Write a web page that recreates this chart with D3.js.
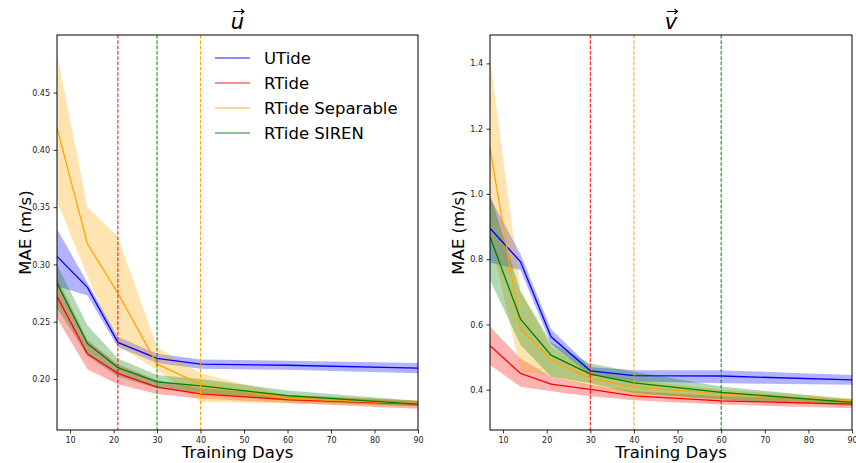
<!DOCTYPE html>
<html>
<head>
<meta charset="utf-8">
<script src="https://cdn.jsdelivr.net/npm/d3@7"></script>
<style>
  body { margin: 0; background: #fff; }
  text { font-family: "DejaVu Sans", sans-serif; }
</style>
</head>
<body>
<script>
// training days on the x axis
var days = [7, 14, 21, 30, 40, 60, 90];
var seriesNames = ['UTide', 'RTide', 'RTide Separable', 'RTide SIREN'];
var seriesColors = ['#0000ff', '#ff0000', '#ffa500', '#008000'];

// u component: mean, lower, upper
var uMean = [
  [0.307, 0.280, 0.232, 0.218, 0.213, 0.212, 0.2095],
  [0.272, 0.222, 0.205, 0.193, 0.187, 0.182, 0.178],
  [0.4195, 0.318, 0.275, 0.213, 0.1955, 0.183, 0.1785],
  [0.2835, 0.231, 0.210, 0.1975, 0.194, 0.1855, 0.178]
];
var uLow = [
  [0.281, 0.273, 0.228, 0.214, 0.209, 0.208, 0.205],
  [0.253, 0.2085, 0.1955, 0.187, 0.183, 0.179, 0.174],
  [0.355, 0.290, 0.229, 0.208, 0.180, 0.179, 0.176],
  [0.262, 0.220, 0.202, 0.192, 0.188, 0.181, 0.176]
];
var uHigh = [
  [0.331, 0.284, 0.237, 0.222, 0.217, 0.216, 0.214],
  [0.288, 0.234, 0.213, 0.199, 0.192, 0.186, 0.181],
  [0.484, 0.350, 0.324, 0.228, 0.205, 0.186, 0.181],
  [0.300, 0.247, 0.218, 0.2035, 0.200, 0.190, 0.181]
];

// v component: mean, lower, upper
var vMean = [
  [0.895, 0.792, 0.562, 0.458, 0.443, 0.442, 0.430],
  [0.535, 0.450, 0.417, 0.401, 0.381, 0.366, 0.356],
  [1.14, 0.588, 0.491, 0.435, 0.409, 0.387, 0.365],
  [0.869, 0.616, 0.506, 0.448, 0.421, 0.392, 0.361]
];
var vLow = [
  [0.790, 0.767, 0.540, 0.445, 0.425, 0.420, 0.415],
  [0.476, 0.409, 0.395, 0.380, 0.368, 0.355, 0.343],
  [0.870, 0.460, 0.440, 0.410, 0.385, 0.370, 0.355],
  [0.736, 0.537, 0.440, 0.420, 0.390, 0.370, 0.350]
];
var vHigh = [
  [0.990, 0.815, 0.585, 0.470, 0.460, 0.460, 0.445],
  [0.593, 0.496, 0.440, 0.415, 0.395, 0.380, 0.370],
  [1.415, 0.705, 0.530, 0.460, 0.430, 0.400, 0.375],
  [1.000, 0.700, 0.545, 0.480, 0.455, 0.410, 0.370]
];

// dashed vertical markers (day, series index)
var uMarkers = [[21, 1], [30, 3], [40, 2]];
var vMarkers = [[30, 1], [40, 2], [60, 3]];

var uTicks = [0.20, 0.25, 0.30, 0.35, 0.40, 0.45];
var vTicks = [0.4, 0.6, 0.8, 1.0, 1.2, 1.4];
var xTicks = [10, 20, 30, 40, 50, 60, 70, 80, 90];

var svg = d3.select('body').append('svg')
  .attr('width', 856)
  .attr('height', 463);

var panels = [
  { left: 57, right: 418, title: 'u', mean: uMean, low: uLow, high: uHigh, markers: uMarkers,
    yDomain: [0.1555, 0.5003], ticks: uTicks, fmt: d3.format('.2f'), legend: true },
  { left: 490, right: 852, title: 'v', mean: vMean, low: vLow, high: vHigh, markers: vMarkers,
    yDomain: [0.2766, 1.487], ticks: vTicks, fmt: d3.format('.1f'), legend: false }
];
var plotTop = 35, plotBottom = 430;

panels.forEach(function (p, pi) {
  var x = d3.scaleLinear().domain([7, 90]).range([p.left, p.right]);
  var y = d3.scaleLinear().domain(p.yDomain).range([plotBottom, plotTop]);

  var clipId = 'clip' + pi;
  svg.append('clipPath').attr('id', clipId)
    .append('rect')
    .attr('x', p.left).attr('y', plotTop)
    .attr('width', p.right - p.left).attr('height', plotBottom - plotTop);

  var g = svg.append('g').attr('clip-path', 'url(#' + clipId + ')');

  var area = d3.area()
    .x(function (d) { return x(d.day); })
    .y0(function (d) { return y(d.lo); })
    .y1(function (d) { return y(d.hi); });
  var line = d3.line()
    .x(function (d) { return x(d.day); })
    .y(function (d) { return y(d.m); });

  seriesNames.forEach(function (name, si) {
    var pts = days.map(function (d, i) {
      return { day: d, m: p.mean[si][i], lo: p.low[si][i], hi: p.high[si][i] };
    });
    g.append('path').datum(pts)
      .attr('d', area)
      .attr('fill', seriesColors[si])
      .attr('fill-opacity', 0.3)
      .attr('stroke', 'none');
  });
  seriesNames.forEach(function (name, si) {
    var pts = days.map(function (d, i) {
      return { day: d, m: p.mean[si][i] };
    });
    g.append('path').datum(pts)
      .attr('d', line)
      .attr('fill', 'none')
      .attr('stroke', seriesColors[si])
      .attr('stroke-width', 1.3);
  });

  // vertical dashed lines
  p.markers.forEach(function (m) {
    g.append('line')
      .attr('x1', x(m[0])).attr('x2', x(m[0]))
      .attr('y1', plotTop).attr('y2', plotBottom)
      .attr('stroke', seriesColors[m[1]])
      .attr('stroke-width', 1)
      .attr('stroke-dasharray', '3.7,1.6');
  });

  // frame
  svg.append('rect')
    .attr('x', p.left).attr('y', plotTop)
    .attr('width', p.right - p.left).attr('height', plotBottom - plotTop)
    .attr('fill', 'none').attr('stroke', '#000').attr('stroke-width', 1);

  // axes
  var xAxis = svg.append('g')
    .attr('transform', 'translate(0,' + plotBottom + ')')
    .call(d3.axisBottom(x).tickValues(xTicks).tickSize(3.5).tickPadding(3.5));
  var yAxis = svg.append('g')
    .attr('transform', 'translate(' + p.left + ',0)')
    .call(d3.axisLeft(y).tickValues(p.ticks).tickFormat(p.fmt).tickSize(3.5).tickPadding(3.5));
  [xAxis, yAxis].forEach(function (a) {
    a.select('.domain').remove();
    a.selectAll('text').attr('font-family', 'DejaVu Sans').attr('font-size', 8).attr('fill', '#222');
    a.selectAll('line').attr('stroke', '#000').attr('stroke-width', 0.8);
  });

  var cx = (p.left + p.right) / 2;
  // axis labels
  svg.append('text')
    .attr('x', cx).attr('y', 458)
    .attr('text-anchor', 'middle')
    .attr('font-size', 16.5)
    .text('Training Days');
  svg.append('text')
    .attr('transform', 'translate(' + (p.left - 26) + ',' + ((plotTop + plotBottom) / 2) + ') rotate(-90)')
    .attr('text-anchor', 'middle')
    .attr('font-size', 16.5)
    .text('MAE (m/s)');

  // title: italic letter with a small arrow above it
  svg.append('text')
    .attr('x', cx).attr('y', 29)
    .attr('text-anchor', 'middle')
    .attr('font-size', 21)
    .attr('font-style', 'italic')
    .text(p.title);
  svg.append('path')
    .attr('d', 'M' + (cx - 4) + ',11.5 L' + (cx + 6) + ',11.5 M' + (cx + 3.5) + ',9 L' + (cx + 6.5) + ',11.5 L' + (cx + 3.5) + ',14')
    .attr('fill', 'none')
    .attr('stroke', '#000')
    .attr('stroke-width', 1.1);

  if (p.legend) {
    var lg = svg.append('g').attr('transform', 'translate(215,58)');
    seriesNames.forEach(function (name, si) {
      var row = lg.append('g').attr('transform', 'translate(0,' + (si * 25) + ')');
      row.append('line')
        .attr('x1', 0).attr('x2', 35)
        .attr('stroke', seriesColors[si])
        .attr('stroke-opacity', 0.6)
        .attr('stroke-width', 1.6);
      row.append('text')
        .attr('x', 49).attr('y', 6)
        .attr('font-size', 16.5)
        .text(name);
    });
  }
});
</script>
</body>
</html>
